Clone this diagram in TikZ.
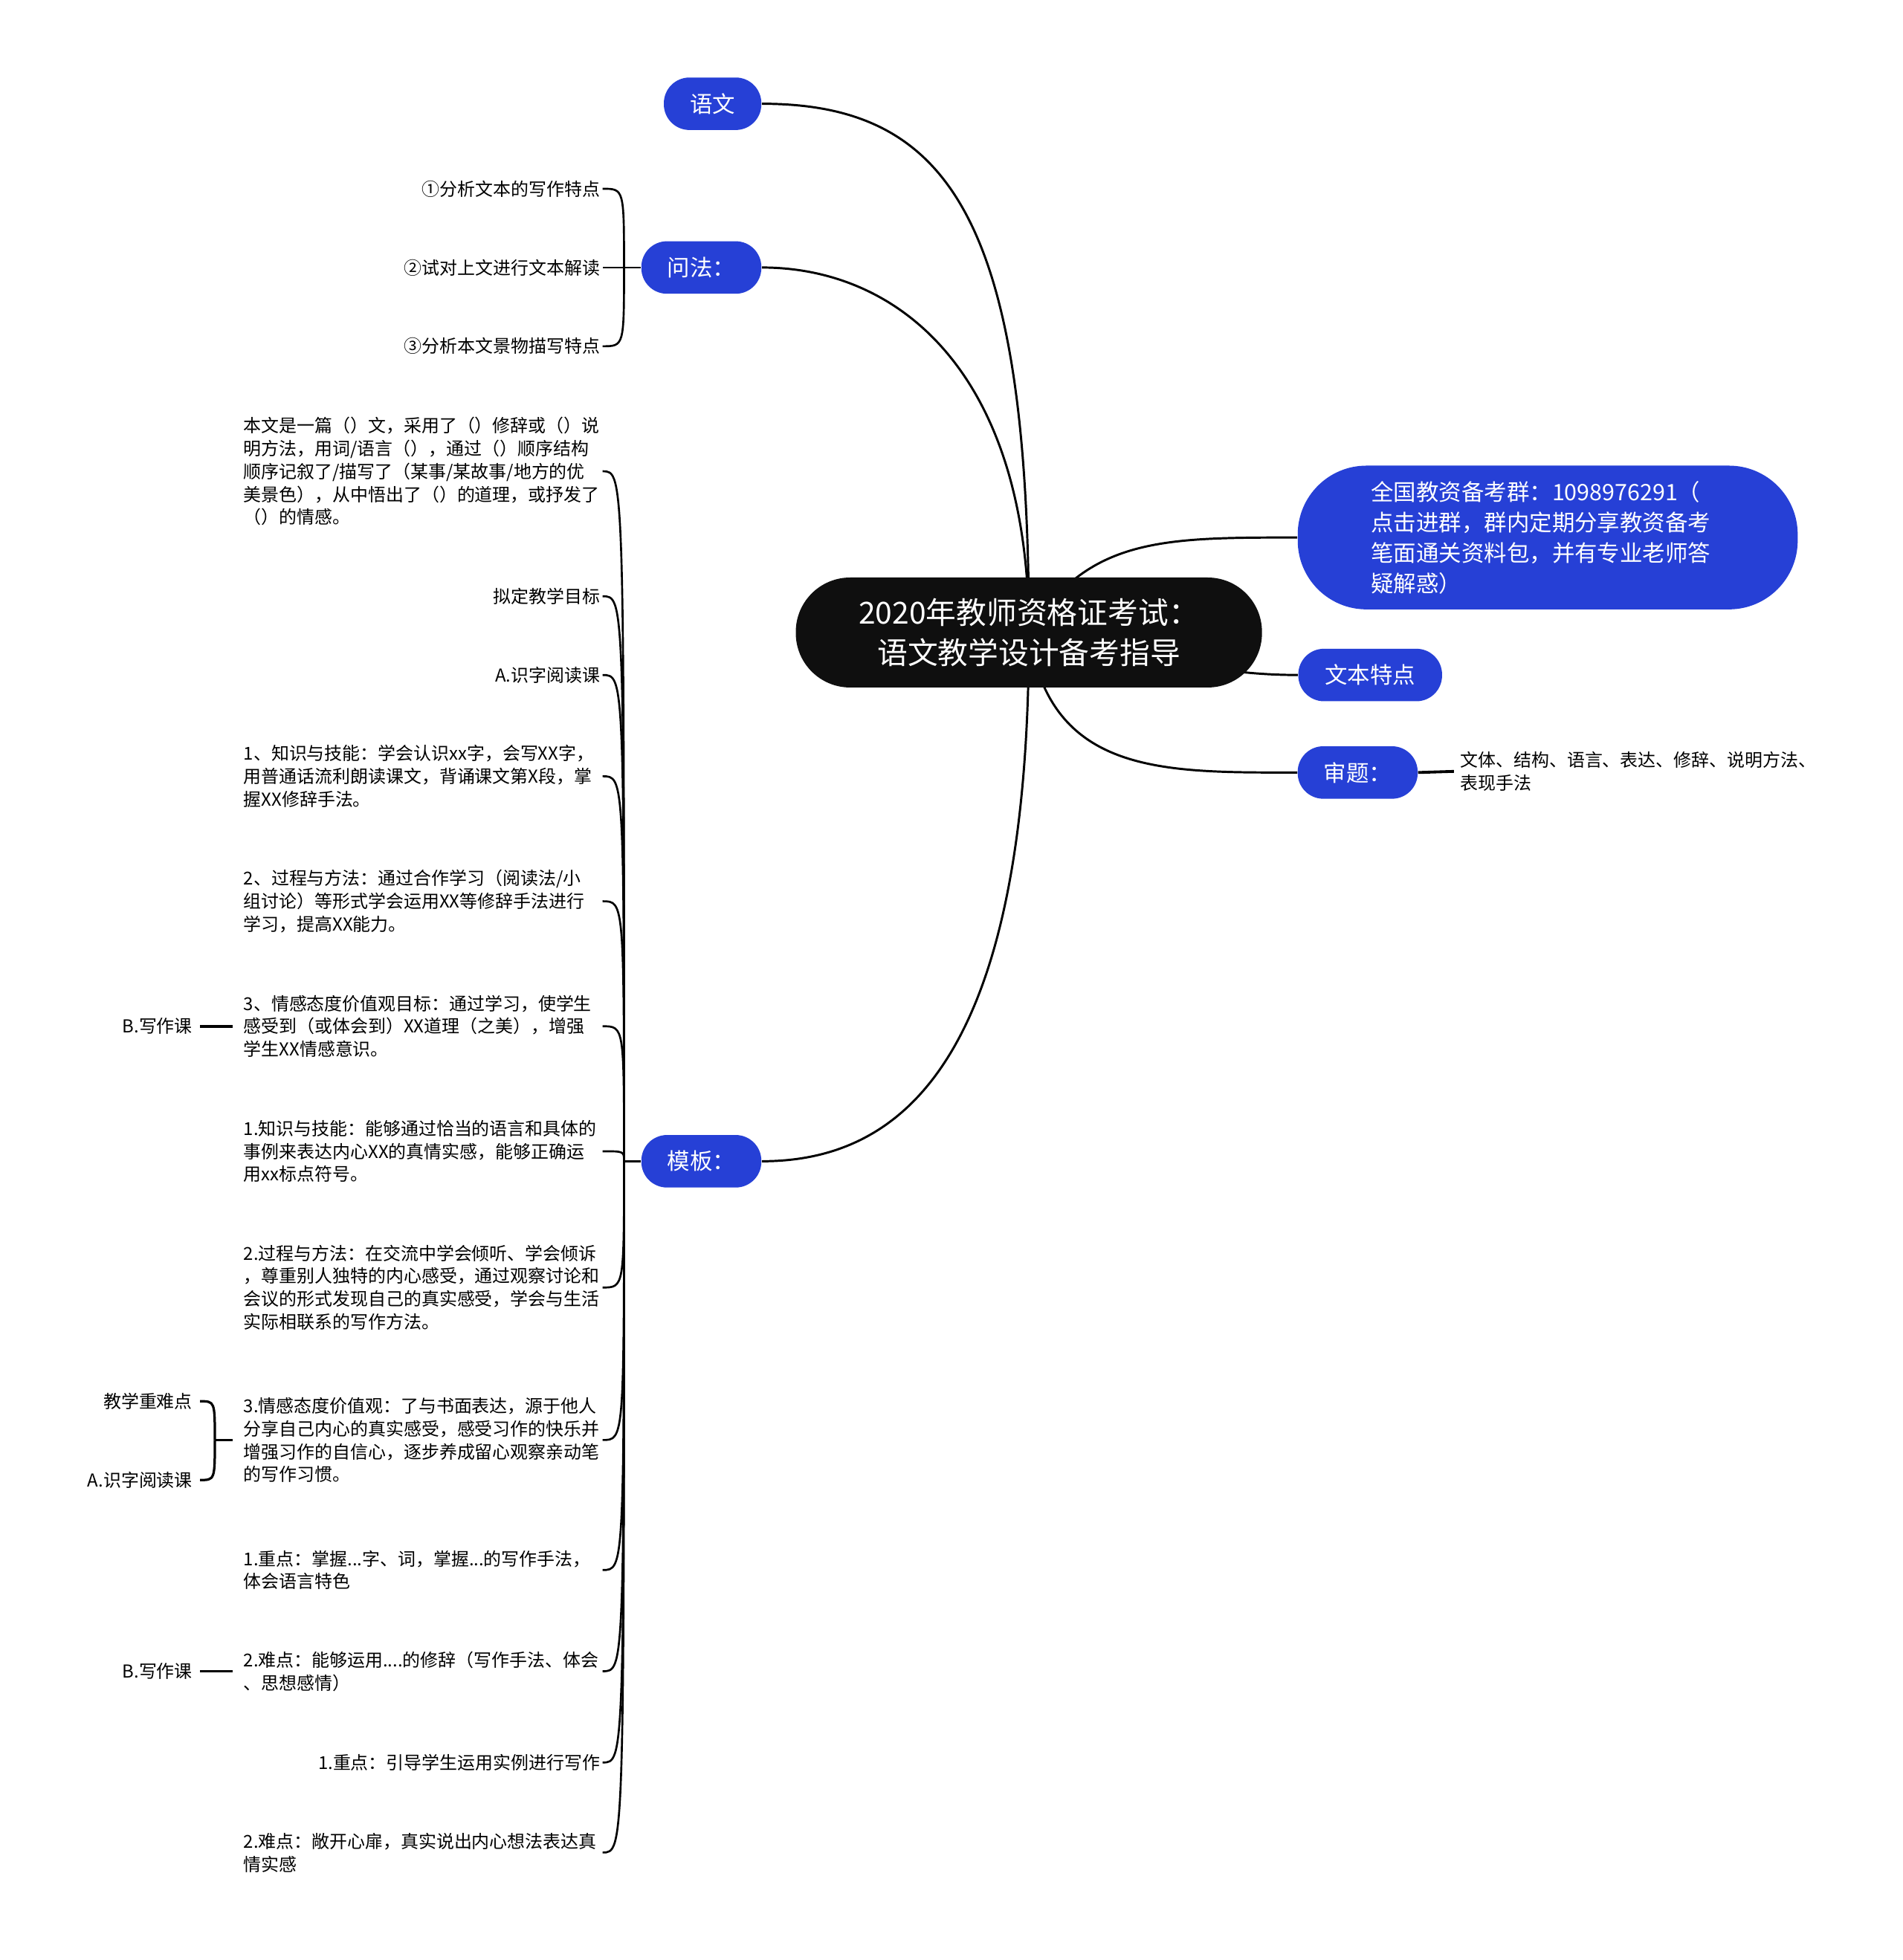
\documentclass[tikz,border=0pt]{standalone}
\usepackage{fontspec}
\setmainfont{Noto Sans CJK SC}
\usepackage{xcolor}
\usetikzlibrary{backgrounds}
\definecolor{mapblue}{RGB}{38,64,214}
\definecolor{mapblack}{RGB}{15,15,15}

\begin{document}
\begin{tikzpicture}[x=0.02cm,y=-0.02cm]
\tikzset{rt/.style={fill=mapblack,text=white,rounded corners=0.87cm,minimum width=7.46cm,minimum height=1.76cm,align=center,font=\fontsize{13.8}{18.2}\selectfont},
bn/.style={fill=mapblue,text=white,rounded corners=0.41cm,minimum height=0.84cm,inner sep=0pt,font=\fontsize{10.3}{13.9}\selectfont},
lt/.style={anchor=east,inner sep=1pt,font=\fontsize{8.1}{10.45}\selectfont},
lp/.style={lt,text width=5.7cm,align=left},
mn/.style={line width=1pt},cn/.style={line width=0.9pt},lk/.style={line width=1.3pt,shorten <=0.14cm,shorten >=0.08cm}}
\useasboundingbox (0,0) rectangle (1522,1568);
% centre and first level
\node[rt] (root) at (823,506) {2020年教师资格证考试：\\语文教学设计备考指导};
\node[bn,minimum width=1.56cm] (yw) at (570,83) {语文};
\node[bn,minimum width=1.92cm] (wf) at (561,214) {问法：};
\node[bn,minimum width=1.92cm] (mb) at (561,929) {模板：};
\node[bn,minimum width=8cm,minimum height=2.3cm,rounded corners=1.1cm,text width=5.65cm,align=left] (qg) at (1238,430) {全国教资备考群：1098976291（\\点击进群，群内定期分享教资备考\\笔面通关资料包，并有专业老师答\\疑解惑）};
\node[bn,minimum width=2.3cm] (wb) at (1096,540) {文本特点};
\node[bn,minimum width=1.92cm] (st) at (1086,618) {审题：};
\node[lt,anchor=west,align=left] (sc) at (1166,617) {文体、结构、语言、表达、修辞、说明方法、\\表现手法};
% 问法
\node[lt] (wf1) at (482,151) {①分析文本的写作特点};
\node[lt] (wf2) at (482,214) {②试对上文进行文本解读};
\node[lt] (wf3) at (482,277) {③分析本文景物描写特点};
% 模板
\node[lp] (mba) at (482,377) {本文是一篇（）文，采用了（）修辞或（）说\\明方法，用词/语言（），通过（）顺序结构\\顺序记叙了/描写了（某事/某故事/地方的优\\美景色），从中悟出了（）的道理，或抒发了\\（）的情感。};
\node[lt] (mbb) at (482,477) {拟定教学目标};
\node[lt] (mbc) at (482,540) {A.识字阅读课};
\node[lp] (mbd) at (482,621) {1、知识与技能：学会认识xx字，会写XX字，\\用普通话流利朗读课文，背诵课文第X段，掌\\握XX修辞手法。};
\node[lp] (mbe) at (482,721) {2、过程与方法：通过合作学习（阅读法/小\\组讨论）等形式学会运用XX等修辞手法进行\\学习，提高XX能力。};
\node[lp] (mbf) at (482,821) {3、情感态度价值观目标：通过学习，使学生\\感受到（或体会到）XX道理（之美），增强\\学生XX情感意识。};
\node[lp] (mbg) at (482,921) {1.知识与技能：能够通过恰当的语言和具体的\\事例来表达内心XX的真情实感，能够正确运\\用xx标点符号。};
\node[lp] (mbh) at (482,1030) {2.过程与方法：在交流中学会倾听、学会倾诉\\，尊重别人独特的内心感受，通过观察讨论和\\会议的形式发现自己的真实感受，学会与生活\\实际相联系的写作方法。};
\node[lp] (mbi) at (482,1152) {3.情感态度价值观：了与书面表达，源于他人\\分享自己内心的真实感受，感受习作的快乐并\\增强习作的自信心，逐步养成留心观察亲动笔\\的写作习惯。};
\node[lp] (mbj) at (482,1256) {1.重点：掌握...字、词，掌握...的写作手法，\\体会语言特色};
\node[lp] (mbk) at (482,1337) {2.难点：能够运用....的修辞（写作手法、体会\\、思想感情）};
\node[lt] (mbl) at (482,1410) {1.重点：引导学生运用实例进行写作};
\node[lp] (mbm) at (482,1482) {2.难点：敞开心扉，真实说出内心想法表达真\\情实感};
% third level
\node[lt] (b1) at (156,821) {B.写作课};
\node[lt] (zn) at (156,1121) {教学重难点}; \node[lt] (sz) at (156,1184) {A.识字阅读课};
\node[lt] (b2) at (156,1337) {B.写作课};
% brace junctions
\coordinate (wfj) at ([xshift=-0.27cm]wf.west); \coordinate (mbx) at ([xshift=-0.27cm]mb.west);
\coordinate (ij) at ([xshift=-0.42cm]mbi.west);

\begin{pgfonlayer}{background}
\draw[mn] (root.center) .. controls +(0,-330) and +(150,0) .. (yw.east);
\draw[mn] (root.center) .. controls +(0,-206) and +(111,0) .. (wf.east);
\draw[mn] (root.center) .. controls +(0,344) and +(111,0) .. (mb.east);
\draw[mn] (root.center) .. controls +(47,-76) and +(-108,0) .. (qg.west);
\draw[mn] (root.center) .. controls +(60,0) and +(-100,0) .. (wb.west);
\draw[mn] (root.center) .. controls +(17,114) and +(-108,0) .. (st.west);
\end{pgfonlayer}
\draw[line width=1.3pt,shorten >=0.06cm] (st.east)--(sc.west);
\draw[cn] (wf.west)--(wfj); \draw[cn] (mb.west)--(mbx);
\foreach \k in {wf1,wf2,wf3} \draw[cn] (wfj) .. controls (wfj|-\k.east) .. (\k.east);
\foreach \k in {mba,mbb,mbc,mbd,mbe,mbf,mbg,mbh,mbi,mbj,mbk,mbl,mbm} \draw[cn] (mbx) .. controls (mbx|-\k.east) .. (\k.east);
\draw[lk] (mbf.west)--(b1.east); \draw[lk] (mbk.west)--(b2.east);
\draw[line width=1.1pt,shorten <=0.14cm] (mbi.west)--(ij);
\draw[line width=1.1pt,shorten >=0.08cm] (ij) .. controls (ij|-zn.east) .. (zn.east);
\draw[line width=1.1pt,shorten >=0.08cm] (ij) .. controls (ij|-sz.east) .. (sz.east);
\end{tikzpicture}
\end{document}
